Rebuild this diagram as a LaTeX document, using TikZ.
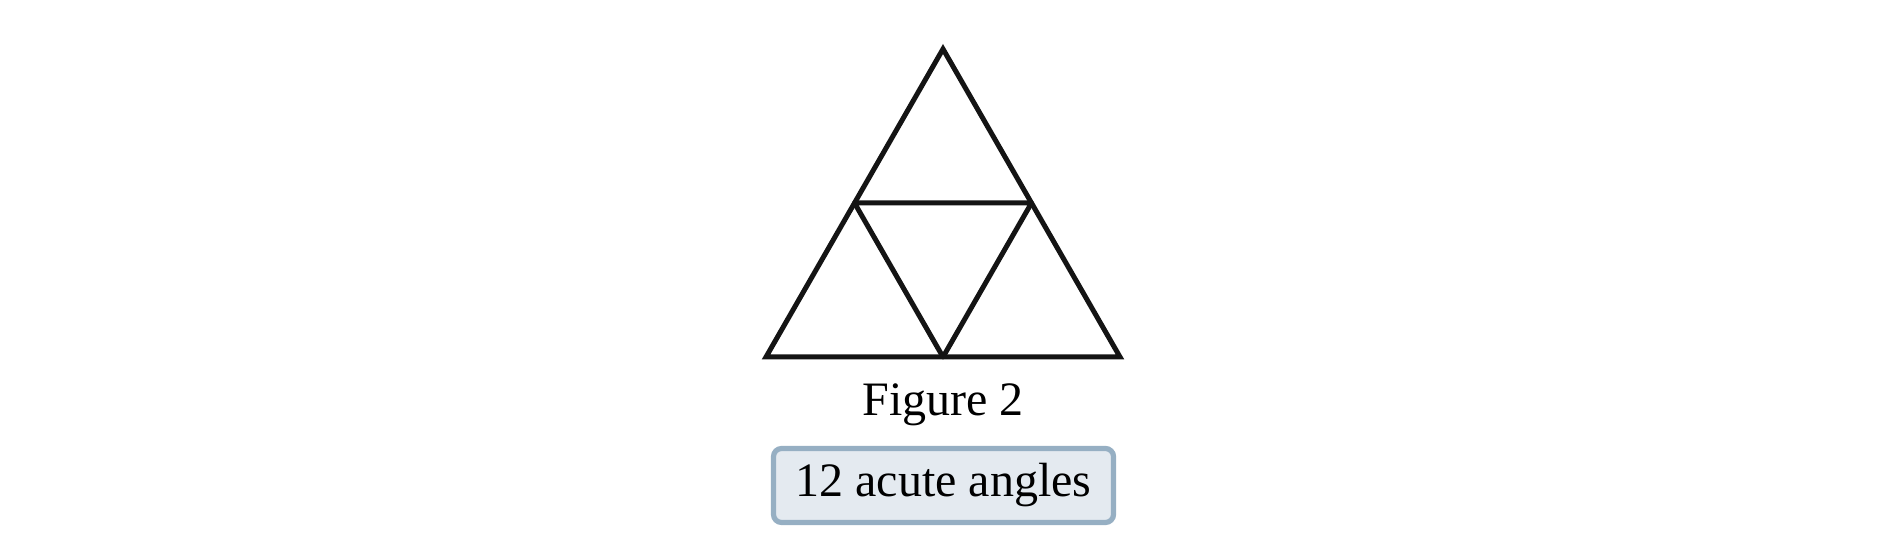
\documentclass[tikz,border=0pt]{standalone}
\usepackage{fontspec}
\setmainfont{Liberation Serif}
\usetikzlibrary{calc}
\definecolor{boxline}{RGB}{150,175,195}
\definecolor{boxfill}{RGB}{228,234,240}
\tikzset{
	edge/.style={line width=2.5pt, color=black!92},
	countbox/.style={draw=boxline, fill=boxfill, line width=2.6pt, rounded corners=4pt,
		minimum width=170pt, minimum height=37pt, inner sep=0pt},
}

\begin{document}
\begin{tikzpicture}[x=0.5pt, y=-0.5pt]
		\useasboundingbox (0, 0) rectangle (1885, 544);
		%%%%% START %%%%%
		
		\coordinate (apex) at (943, 49);
		\coordinate (left) at (766, 357);
		\coordinate (right) at (1120, 357);
		\coordinate (midL) at ($(apex)!0.5!(left)$);
		\coordinate (midR) at ($(apex)!0.5!(right)$);
		\coordinate (midB) at ($(left)!0.5!(right)$);
		
		\draw[edge] (apex) -- (left) -- (right) -- cycle;
		\draw[edge, line join=round] (midL) -- (midR) -- (midB) -- cycle;
		
		\node[anchor=base, font=\fontsize{24}{28}\selectfont] (caption) at (943, 416) {Figure 2};
		\node[countbox, font=\fontsize{24}{28}\selectfont] (count) at (943.5, 485.5) {12 acute angles};
		
		%%%%% END %%%%%
	\end{tikzpicture}
\end{document}
